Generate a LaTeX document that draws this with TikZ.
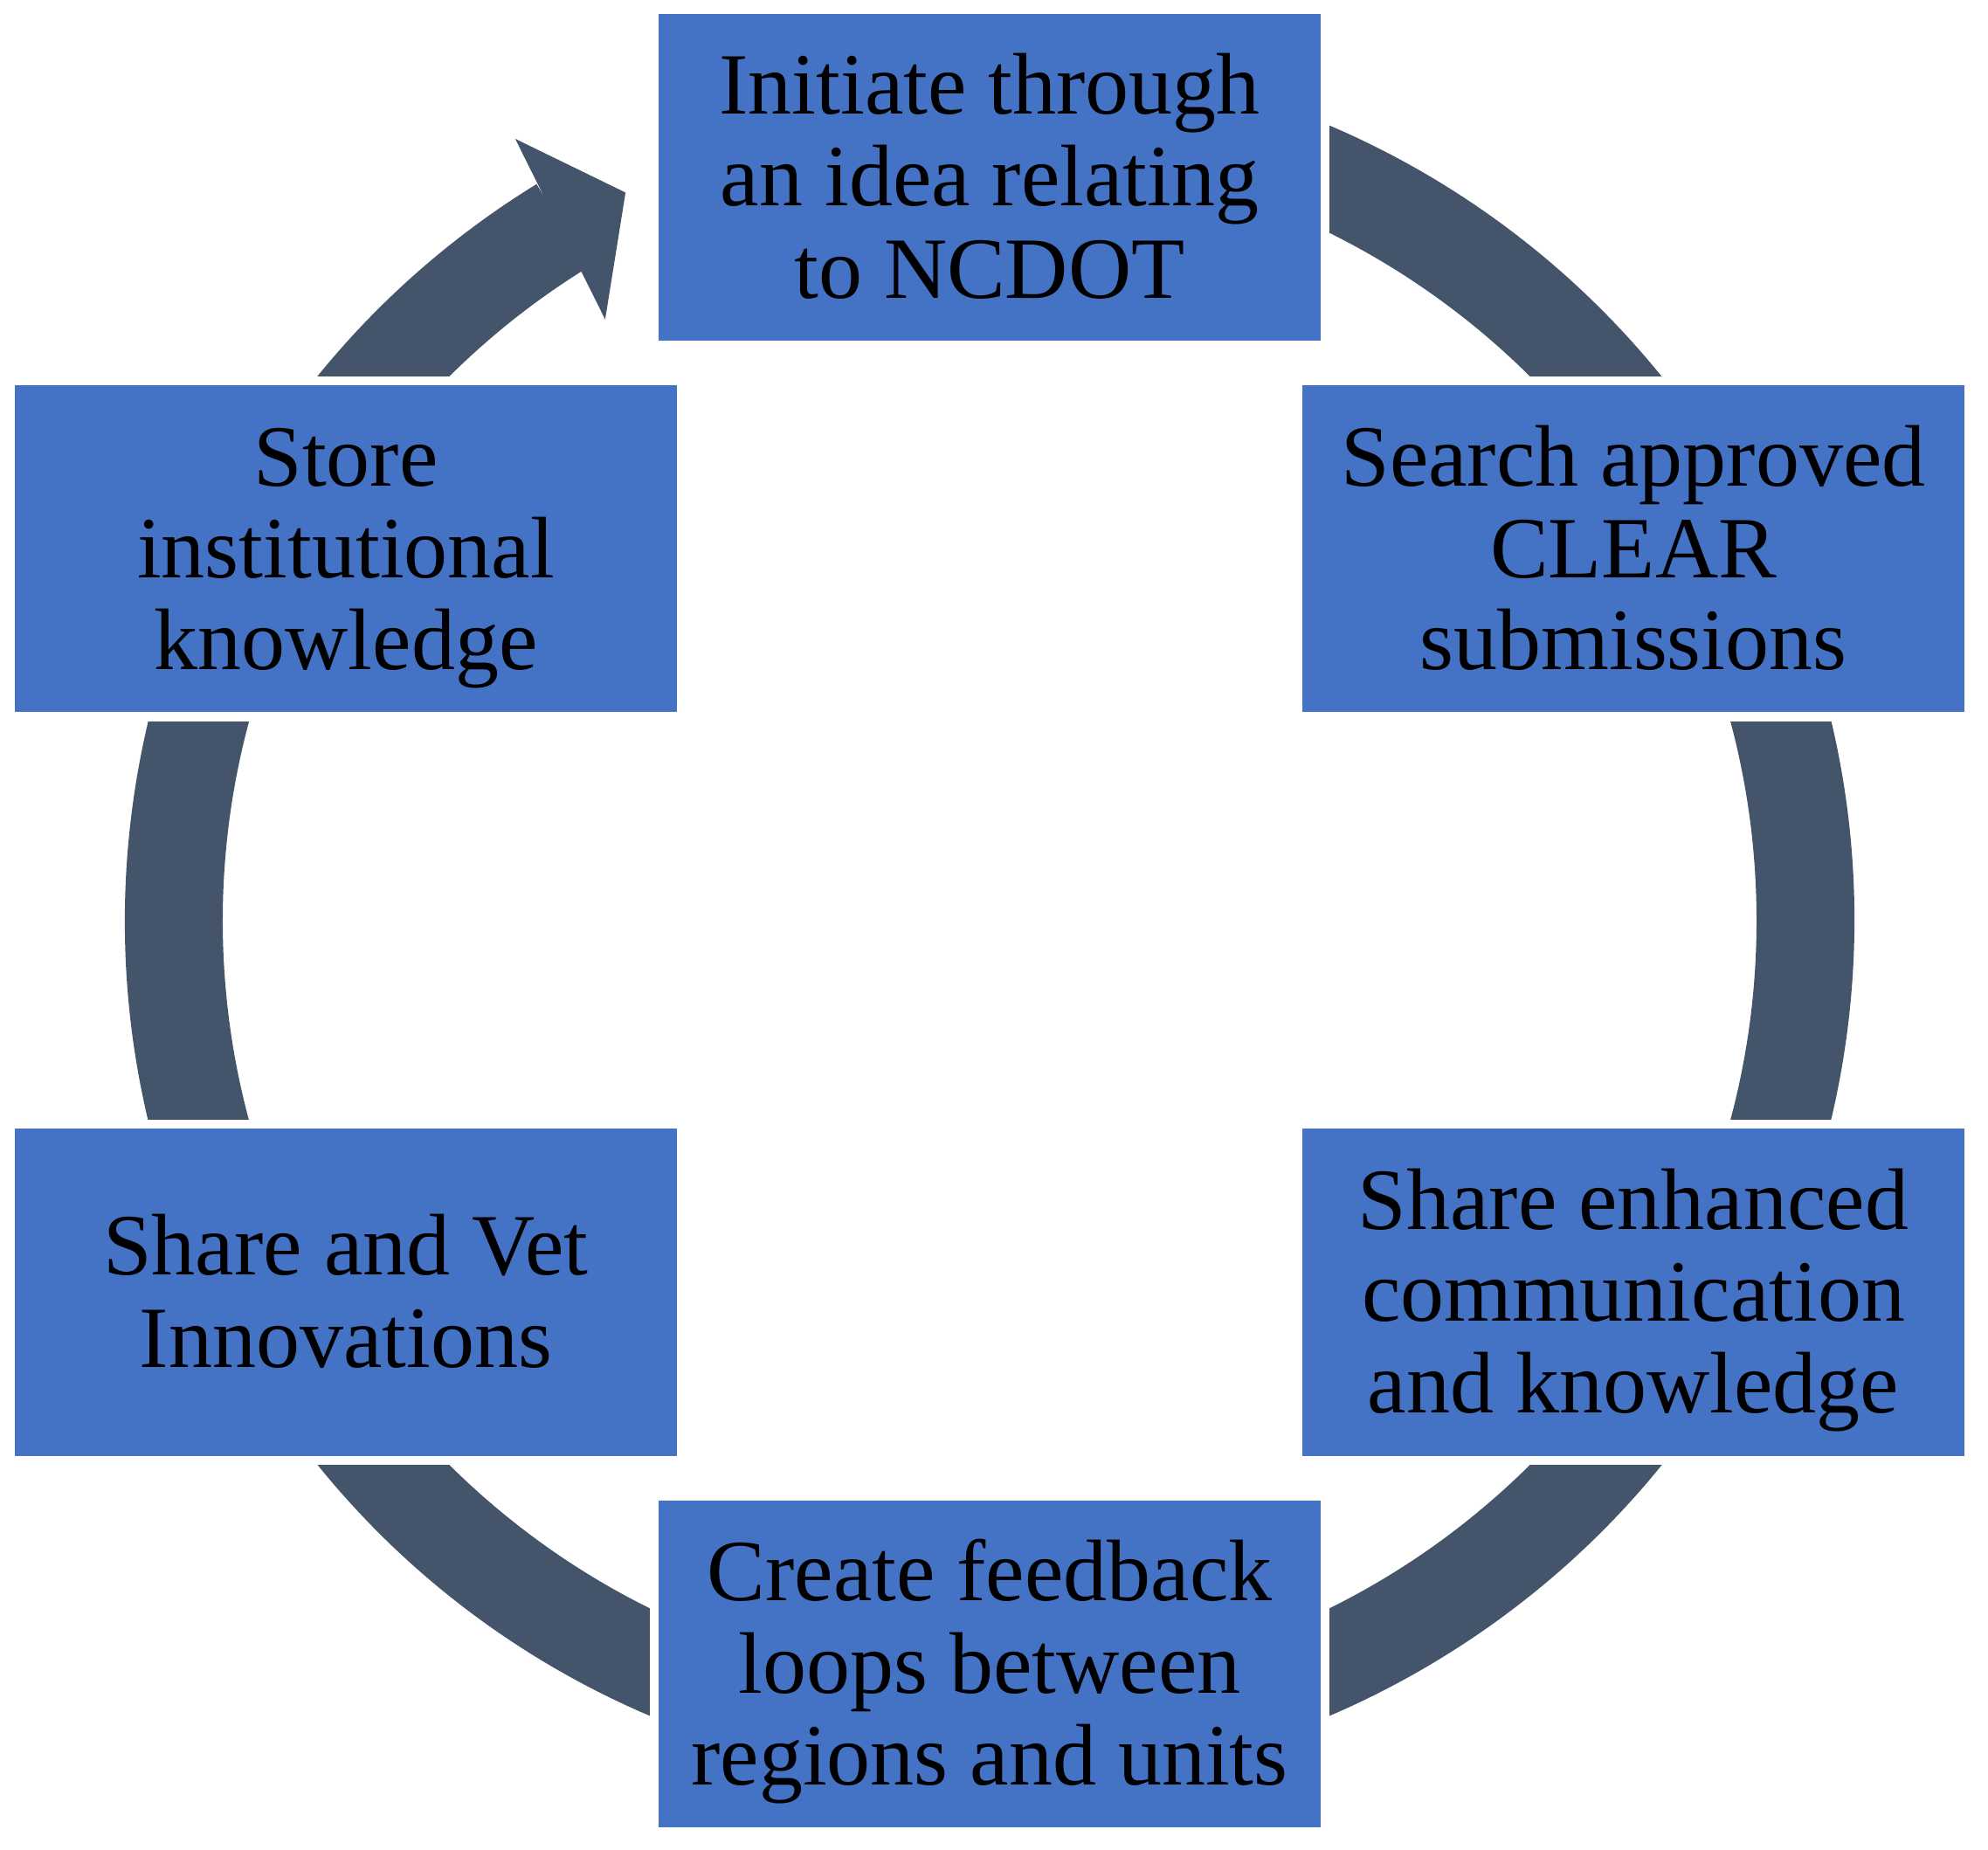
\documentclass[tikz,border=0pt]{standalone}
\usepackage{fontspec}
\setmainfont{Liberation Serif}
\usetikzlibrary{backgrounds}
\definecolor{boxblue}{HTML}{4472C4}
\definecolor{ringgray}{HTML}{44546A}
\newcommand{\mytopstrut}{\rule{0pt}{0.88em}}
\newcommand{\mybotstrut}{\rule[-0.22em]{0pt}{0.22em}}
\begin{document}
\begin{tikzpicture}[
  stepbox/.style={fill=boxblue, minimum width=7.58cm, minimum height=3.74cm,
    inner sep=0pt, align=center, text=black,
    font=\fontsize{28.45pt}{30pt}\selectfont},
  ringband/.style={fill=ringgray},
  gapbox/.style={fill=white}
]
\useasboundingbox (-11.33,-10.63) rectangle (11.43,10.54);
\node[stepbox] (init) at (90:8.51) {\mytopstrut Initiate through\\an idea relating\\to NCDOT\mybotstrut};
\node[stepbox] (search) at (30:8.51) {\mytopstrut Search approved\\CLEAR\\submissions\mybotstrut};
\node[stepbox] (enhance) at (-30:8.51) {\mytopstrut Share enhanced\\communication\\and knowledge\mybotstrut};
\node[stepbox] (feedback) at (-90:8.51) {\mytopstrut Create feedback\\loops between\\regions and units\mybotstrut};
\node[stepbox] (vet) at (-150:8.51) {\mytopstrut Share and Vet\\Innovations\mybotstrut};
\node[stepbox] (store) at (150:8.51) {\mytopstrut Store\\institutional\\knowledge\mybotstrut};
\begin{scope}[on background layer]
  \fill[ringband] (121.6:9.90) arc[start angle=121.6, end angle=450, radius=9.90cm]
    -- (450:8.78) arc[start angle=450, end angle=121.6, radius=8.78cm] -- cycle;
  \fill[ringband] (121.25:10.47) -- (116.57:9.32) -- (122.6:8.17) -- cycle;
  \foreach \n in {init,search,enhance,feedback,vet,store}
    \fill[gapbox] ([shift={(-0.095,-0.095)}]\n.south west) rectangle ([shift={(0.095,0.095)}]\n.north east);
\end{scope}
\end{tikzpicture}
\end{document}
